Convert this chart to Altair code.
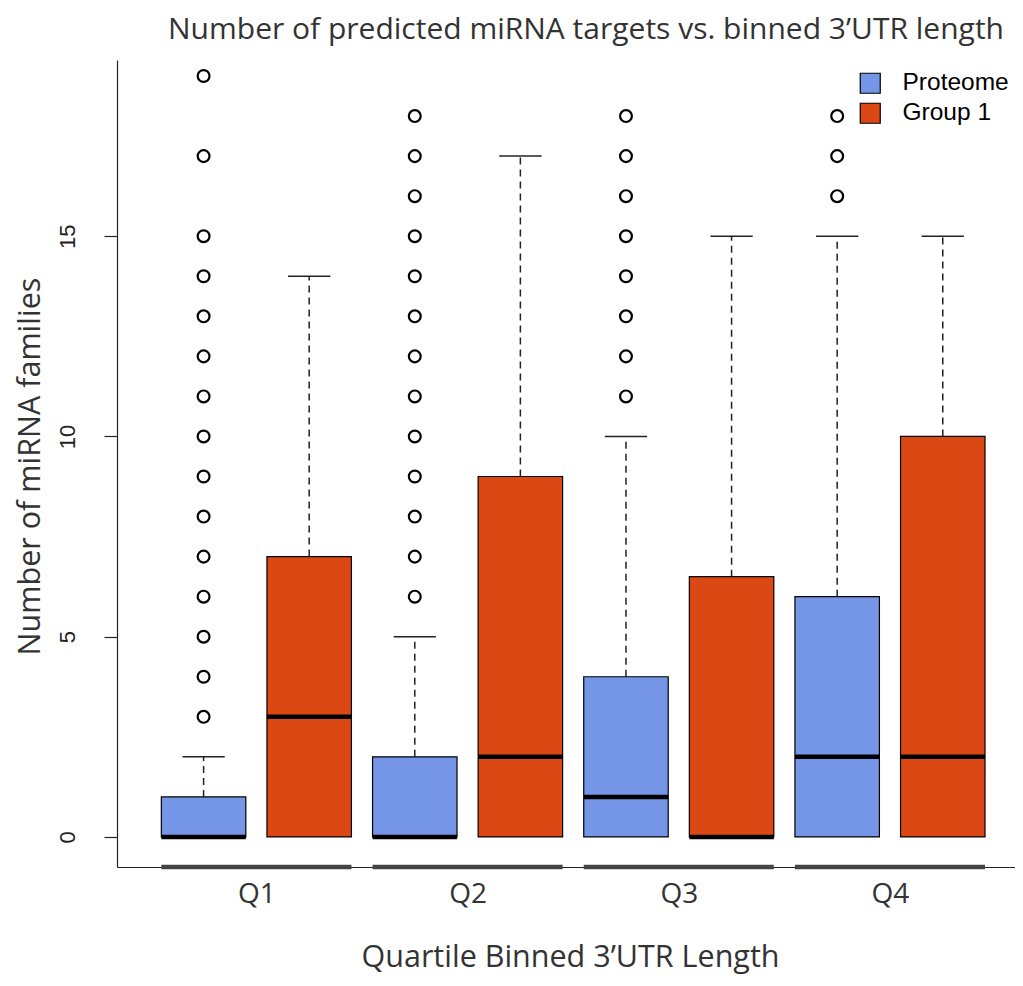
import altair as alt
import pandas as pd

quartiles = ["Q1", "Q2", "Q3", "Q4"]
series = ["Proteome", "Group 1"]
colors = ["#7595E7", "#DC4813"]

# boxes in order: Q1 Proteome, Q1 Group 1, Q2 Proteome, Q2 Group 1, ...
lower_quartile = [0, 0, 0, 0, 0, 0, 0, 0]
median = [0, 3, 0, 2, 1, 0, 2, 2]
upper_quartile = [1, 7, 2, 9, 4, 6.5, 6, 10]
whisker_high = [2, 14, 5, 17, 10, 15, 15, 15]
outliers = [
    [3, 4, 5, 6, 7, 8, 9, 10, 11, 12, 13, 14, 15, 17, 19],
    [],
    [6, 7, 8, 9, 10, 11, 12, 13, 14, 15, 16, 17, 18],
    [],
    [11, 12, 13, 14, 15, 16, 17, 18],
    [],
    [16, 17, 18],
    [],
]

rows = []
out_rows = []
for i in range(8):
    pos = i + 1
    rows.append({
        "pos": pos,
        "quartile": quartiles[i // 2],
        "series": series[i % 2],
        "q1": lower_quartile[i],
        "median": median[i],
        "q3": upper_quartile[i],
        "whi": whisker_high[i],
    })
    for v in outliers[i]:
        out_rows.append({"pos": pos, "value": v})
box_df = pd.DataFrame(rows)
out_df = pd.DataFrame(out_rows)
seg_df = pd.DataFrame({"quartile": quartiles, "center": [2 * k + 1.5 for k in range(4)]})

YMIN, YMAX = -0.75, 19.4
xs = alt.Scale(domain=[0.18, 8.684], nice=False, zero=False)
ys = alt.Scale(domain=[YMIN, YMAX], nice=False, zero=False)

label_js = "[" + ",".join("'%s'" % q for q in quartiles) + "][floor(datum.value/2)]"
x_axis = alt.Axis(
    values=[2 * k + 1.5 for k in range(4)], labelExpr=label_js, ticks=False, grid=False,
    domainColor="#222", domainWidth=1.2, labelFont="Open Sans", labelFontSize=28,
    labelColor="#333", labelPadding=13, labelOverlap=False, labelFlush=False,
    title="Quartile Binned 3’UTR Length", titleFont="Open Sans", titleFontSize=30.5,
    titleColor="#333", titleFontWeight="normal", titleX=453, titleY=99,
    titleBaseline="alphabetic", titleAlign="center",
)
y_axis = alt.Axis(
    values=[0, 5, 10, 15], grid=False, tickSize=13, tickColor="#222", tickWidth=1.2,
    domainColor="#222", domainWidth=1.2, labelAngle=270, labelAlign="center",
    labelBaseline="bottom", labelFont="Liberation Sans", labelFontSize=22,
    labelColor="#222", labelPadding=25,
    title="Number of miRNA families", titleFont="Open Sans", titleFontSize=30.5,
    titleColor="#333", titleFontWeight="normal", titleAngle=270, titleX=-87,
    titleY=406, titleAlign="center", titleBaseline="middle",
)


def X(field):
    return alt.X(field, type="quantitative", scale=xs, axis=x_axis)


def Y(field):
    return alt.Y(field, type="quantitative", scale=ys, axis=y_axis)


base = alt.Chart(box_df).transform_calculate(
    left="datum.pos - 0.4", right="datum.pos + 0.4",
    capL="datum.pos - 0.2", capR="datum.pos + 0.2",
)

whisk = base.mark_rule(strokeDash=[7, 5], strokeWidth=1.5, color="#222").encode(
    x=X("pos"), y=Y("q3"), y2="whi:Q"
)
cap = base.mark_rule(strokeWidth=1.5, color="#222").encode(
    x=X("capL"), x2="capR:Q", y=Y("whi")
)
box = base.mark_rect(stroke="black", strokeWidth=1.2).encode(
    x=X("left"), x2="right:Q", y=Y("q1"), y2="q3:Q",
    color=alt.Color(
        "series:N", scale=alt.Scale(domain=series, range=colors),
        legend=alt.Legend(
            title=None, orient="none", legendX=741, legendY=11, symbolType="square",
            symbolSize=400, symbolStrokeColor="black", symbolStrokeWidth=1.2,
            labelFont="Liberation Sans", labelFontSize=24.5, labelColor="black",
            labelOffset=20, rowPadding=4, padding=0,
        ),
    ),
)
med = base.mark_rule(strokeWidth=4.5, color="black").encode(
    x=X("left"), x2="right:Q", y=Y("median")
)
pts = alt.Chart(out_df).mark_point(
    shape="circle", filled=False, size=140, strokeWidth=2.2, color="black", opacity=1
).encode(x=X("pos"), y=Y("value"))
segs = alt.Chart(seg_df).transform_calculate(
    a="datum.center - 0.9", b="datum.center + 0.9", yb=str(YMIN)
).mark_rule(strokeWidth=4.5, color="#444", strokeCap="butt").encode(
    x=X("a"), x2="b:Q", y=Y("yb")
)

chart = alt.layer(whisk, cap, box, med, pts, segs).properties(
    width=898, height=807,
    autosize=alt.AutoSizeParams(type="none"),
    padding={"left": 109, "top": 52, "right": 0, "bottom": 108},
    title=alt.TitleParams(
        "Number of predicted miRNA targets vs. binned 3’UTR length",
        font="Open Sans", fontSize=30, color="#333", fontWeight="normal",
        anchor="middle", dx=20, offset=15,
    ),
).configure_view(stroke=None)

chart.save("out.html", embed_options={"renderer": "svg", "actions": False})
